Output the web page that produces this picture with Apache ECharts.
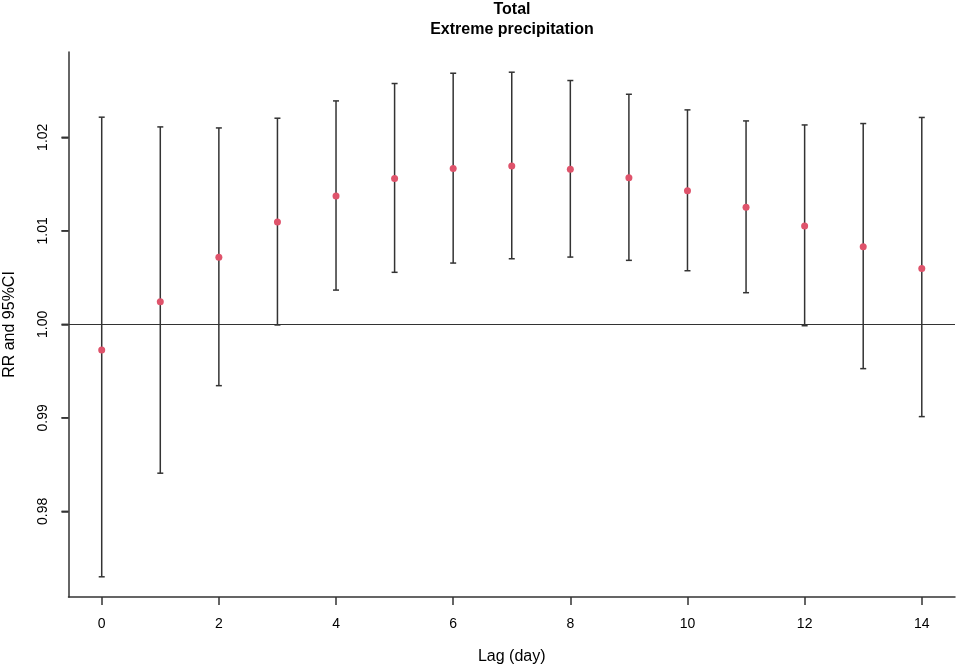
<!DOCTYPE html>
<html lang="en">
  <head>
    <meta charset="UTF-8" />
    <title>Total - Extreme precipitation</title>
    <script src="https://cdn.jsdelivr.net/npm/echarts@6.0.0/dist/echarts.min.js"></script>
    <style>
      html, body { margin: 0; padding: 0; background: #fff; }
    </style>
  </head>
  <body>
    <div id="main" style="width: 957px; height: 667px"></div>
    <script type="text/javascript">
      // values
      const lags = [0, 1, 2, 3, 4, 5, 6, 7, 8, 9, 10, 11, 12, 13, 14];
      const rr = [0.99725, 1.00241, 1.00716, 1.01093, 1.01371, 1.0156, 1.01667, 1.01694,
        1.01659, 1.01566, 1.01427, 1.01253, 1.0105, 1.00829, 1.00598];
      const lower = [0.973, 0.98408, 0.99344, 0.99993, 1.00366, 1.00556, 1.00655, 1.00701,
        1.00719, 1.00684, 1.00573, 1.00338, 0.99985, 0.99526, 0.99013];
      const upper = [1.02215, 1.02111, 1.021, 1.02204, 1.02389, 1.02575, 1.02685, 1.02696,
        1.02607, 1.0246, 1.02293, 1.02175, 1.02132, 1.02147, 1.02212];
      const xTicks = [0, 2, 4, 6, 8, 10, 12, 14];
      const yTicks = [0.98, 0.99, 1.0, 1.01, 1.02];

      const myChart = echarts.init(document.getElementById("main"));
      const font = "Liberation Sans, Arial, sans-serif";
      const ink = "#333";

      // error bars with small caps
      function renderBar(params, api) {
        const lo = api.coord([api.value(0), api.value(1)]);
        const hi = api.coord([api.value(0), api.value(2)]);
        const w = 3;
        const style = { stroke: ink, lineWidth: 1.5 };
        return {
          type: "group",
          children: [
            { type: "line", shape: { x1: lo[0], y1: lo[1], x2: hi[0], y2: hi[1] }, style: style },
            { type: "line", shape: { x1: lo[0] - w, y1: lo[1], x2: lo[0] + w, y2: lo[1] }, style: style },
            { type: "line", shape: { x1: hi[0] - w, y1: hi[1], x2: hi[0] + w, y2: hi[1] }, style: style },
          ],
        };
      }

      // extra y-axis tick marks on the left edge of the plot
      function renderYTick(params, api) {
        const y = api.coord([0, api.value(1)])[1];
        const x = params.coordSys.x;
        return {
          type: "line",
          z2: 100,
          shape: { x1: x - 7, y1: y, x2: x, y2: y },
          style: { stroke: ink, lineWidth: 1.5 },
        };
      }

      const options = {
        animation: false,
        title: {
          text: "Total\nExtreme precipitation",
          left: 512,
          top: 0,
          padding: 0,
          textAlign: "center",
          textStyle: { fontFamily: font, fontSize: 16, fontWeight: "bold", color: "#000", lineHeight: 20 },
        },
        grid: { left: 68.5, right: 2, top: 52, bottom: 70, outerBoundsMode: "none" },
        xAxis: {
          type: "value",
          min: -0.567,
          max: 14.567,
          name: "Lag (day)",
          nameLocation: "middle",
          nameGap: 52,
          nameTextStyle: { fontFamily: font, fontSize: 16, color: "#000" },
          splitLine: { show: false },
          axisLine: { onZero: false, lineStyle: { color: ink, width: 1.5 } },
          axisTick: { length: 8, lineStyle: { color: ink, width: 1.5 }, customValues: xTicks },
          axisLabel: { fontFamily: font, fontSize: 14, color: "#000", margin: 20, customValues: xTicks },
        },
        yAxis: {
          type: "value",
          min: 0.97084,
          max: 1.02912,
          name: "RR and 95%CI",
          nameLocation: "middle",
          nameGap: 51,
          nameRotate: 90,
          nameTextStyle: { fontFamily: font, fontSize: 16, color: "#000" },
          splitLine: { show: false },
          axisLine: { show: true, onZero: false, lineStyle: { color: ink, width: 1.5 } },
          axisTick: { show: true, length: 7, lineStyle: { color: ink, width: 1.5 }, customValues: yTicks },
          axisLabel: {
            fontFamily: font,
            fontSize: 14,
            color: "#000",
            rotate: 90,
            margin: 18,
            customValues: yTicks,
            formatter: (v) => v.toFixed(2),
          },
        },
        series: [
          {
            type: "custom",
            renderItem: renderYTick,
            clip: false,
            silent: true,
            data: yTicks.map((v) => [0, v]),
            z: 10,
          },
          {
            type: "custom",
            renderItem: renderBar,
            data: lags.map((l, i) => [l, lower[i], upper[i]]),
            z: 2,
          },
          {
            type: "scatter",
            data: lags.map((l, i) => [l, rr[i]]),
            symbolSize: 7,
            itemStyle: { color: "#DF536B", opacity: 1 },
            z: 3,
            markLine: {
              silent: true,
              symbol: "none",
              label: { show: false },
              lineStyle: { color: ink, width: 1.2, type: "solid" },
              data: [{ yAxis: 1 }],
            },
          },
        ],
      };

      myChart.setOption(options);
    </script>
  </body>
</html>
